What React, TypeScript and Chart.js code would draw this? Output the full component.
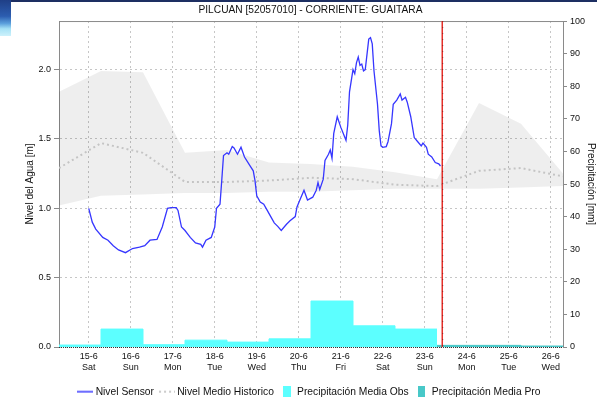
import React, { useEffect, useRef } from "react";
import { Chart, registerables } from "chart.js";

Chart.register(...registerables);

const FONT = '"Liberation Sans", Arial, sans-serif';

const titleText = "PILCUAN [52057010] - CORRIENTE: GUAITARA";
const leftAxisTitle = "Nivel del Agua [m]";
const rightAxisTitle = "Precipitación [mm]";

// x values: hours since 15-6 00:00
const xMinHour = -17;
const xMaxHour = 271;
const nowHour = 202;
const levelMax = 2.35;
const precipMax = 100;

const dayLabels = ["15-6", "16-6", "17-6", "18-6", "19-6", "20-6", "21-6", "22-6", "23-6", "24-6", "25-6", "26-6"];
const weekdayLabels = ["Sat", "Sun", "Mon", "Tue", "Wed", "Thu", "Fri", "Sat", "Sun", "Mon", "Tue", "Wed"];

const sensorHours = [0, 2, 4, 8, 11, 14, 17, 21, 25, 29, 32, 35, 39, 42, 45, 47, 50, 51, 53, 55, 58, 61, 64, 65, 67, 70, 72, 73, 75, 76, 77, 79, 80, 82, 83, 85, 87, 89, 92, 94, 95, 96, 98, 100, 102, 104, 106, 108, 110, 113, 115, 118, 119, 121, 123, 125, 128, 130, 131, 132, 134, 135, 137, 138, 139, 140, 142, 144, 147, 148, 149, 151, 152, 153, 154, 155, 156, 157, 158, 159, 160, 161, 162, 163, 165, 166, 167, 168, 170, 171, 173, 174, 176, 178, 179, 181, 182, 184, 185, 186, 188, 190, 191, 193, 194, 196, 198, 200, 201];
const sensorLevels = [1.0, 0.9, 0.85, 0.79, 0.77, 0.73, 0.7, 0.68, 0.71, 0.72, 0.73, 0.77, 0.775, 0.865, 1.0, 1.005, 1.005, 0.985, 0.865, 0.84, 0.79, 0.75, 0.74, 0.72, 0.77, 0.79, 0.865, 1.0, 1.03, 1.2, 1.38, 1.4, 1.39, 1.445, 1.435, 1.39, 1.44, 1.37, 1.31, 1.27, 1.2, 1.09, 1.045, 1.03, 0.985, 0.94, 0.895, 0.87, 0.84, 0.885, 0.91, 0.94, 1.01, 1.07, 1.13, 1.06, 1.08, 1.13, 1.185, 1.135, 1.21, 1.345, 1.39, 1.42, 1.36, 1.54, 1.66, 1.585, 1.49, 1.6, 1.84, 2.0, 1.97, 2.05, 2.09, 2.03, 2.04, 1.99, 2.0, 2.11, 2.22, 2.23, 2.185, 1.99, 1.75, 1.56, 1.45, 1.44, 1.445, 1.48, 1.61, 1.75, 1.78, 1.825, 1.78, 1.8, 1.765, 1.66, 1.585, 1.51, 1.48, 1.45, 1.47, 1.44, 1.39, 1.37, 1.33, 1.32, 1.305];

const histHours = [-17, 7, 31, 55, 79, 103, 127, 151, 175, 199, 223, 247, 271];
const histUpper = [1.84, 1.99, 1.98, 1.4, 1.42, 1.33, 1.32, 1.3, 1.26, 1.21, 1.76, 1.61, 1.25];
const histMedian = [1.29, 1.47, 1.4, 1.19, 1.19, 1.2, 1.22, 1.21, 1.17, 1.16, 1.27, 1.29, 1.23];
const histLower = [1.02, 1.09, 1.1, 1.11, 1.11, 1.12, 1.12, 1.13, 1.14, 1.14, 1.14, 1.15, 1.16];

// daily precipitation, periods 07:00 -> 07:00 (boundaries in hours)
const obsBounds = [-17, 7, 31, 55, 79, 103, 127, 151, 175, 199];
const obsPrecip = [0.6, 5.5, 0.7, 2.1, 1.5, 2.5, 14.1, 6.5, 5.5];
const proBounds = [199, 223, 247, 271];
const proPrecip = [0.5, 0.5, 0.3];

const COLORS = {
  sensor: "#3636ff",
  median: "#c4c4c4",
  band: "rgba(0,0,0,0.066)",
  obs: "#5cffff",
  pro: "#48c8c8",
  now: "#e6302a",
  grid: "#c6c6c6",
  axis: "#8a8a8a",
};

function stepPoints(bounds: number[], values: number[]) {
  return bounds.map((h, i) => ({ x: h, y: values[Math.min(i, values.length - 1)] }));
}

function makeSwatch(kind: "line" | "dots" | "rect", color: string, w: number, h: number) {
  const c = document.createElement("canvas");
  c.width = w;
  c.height = h;
  const g = c.getContext("2d")!;
  if (kind === "rect") {
    g.fillStyle = color;
    g.fillRect(0, 0, w, h);
  } else {
    g.strokeStyle = color;
    g.lineWidth = kind === "line" ? 1.5 : 1.6;
    if (kind === "dots") g.setLineDash([2, 3]);
    g.beginPath();
    g.moveTo(0, h / 2);
    g.lineTo(w, h / 2);
    g.stroke();
  }
  return c;
}

const overlayPlugin = {
  id: "overlay",
  afterDatasetsDraw(chart: any) {
    const { ctx, chartArea, scales } = chart;
    const x = scales.x.getPixelForValue(nowHour);
    ctx.save();
    // top frame line
    ctx.strokeStyle = COLORS.axis;
    ctx.lineWidth = 1;
    ctx.beginPath();
    ctx.moveTo(chartArea.left, chartArea.top + 0.5);
    ctx.lineTo(chartArea.right, chartArea.top + 0.5);
    ctx.stroke();
    // bottom dotted axis
    ctx.strokeStyle = "#333";
    ctx.setLineDash([1, 1]);
    ctx.beginPath();
    ctx.moveTo(chartArea.left, chartArea.bottom + 0.5);
    ctx.lineTo(chartArea.right, chartArea.bottom + 0.5);
    ctx.stroke();
    // now line
    ctx.setLineDash([]);
    ctx.strokeStyle = COLORS.now;
    ctx.lineWidth = 1.5;
    ctx.beginPath();
    ctx.moveTo(x, chartArea.top);
    ctx.lineTo(x, chartArea.bottom);
    ctx.stroke();
    ctx.strokeStyle = "rgba(90,20,20,0.6)";
    ctx.lineWidth = 1;
    ctx.setLineDash([1, 5]);
    ctx.beginPath();
    ctx.moveTo(x + 0.5, chartArea.top);
    ctx.lineTo(x + 0.5, chartArea.bottom);
    ctx.stroke();
    ctx.restore();
  },
};

export default function App() {
  const canvasRef = useRef<HTMLCanvasElement | null>(null);

  useEffect(() => {
    document.body.style.margin = "0";
    const canvas = canvasRef.current;
    if (!canvas) return;

    const swatches = {
      sensor: makeSwatch("line", COLORS.sensor, 16, 3),
      median: makeSwatch("dots", "#b8b8b8", 16, 3),
      obs: makeSwatch("rect", COLORS.obs, 8, 11),
      pro: makeSwatch("rect", COLORS.pro, 7, 11),
    };

    const chart = new Chart(canvas, {
      type: "line",
      data: {
        datasets: [
          {
            label: "Nivel Sensor",
            data: sensorHours.map((h, i) => ({ x: h, y: sensorLevels[i] })),
            borderColor: COLORS.sensor,
            borderWidth: 1.3,
            pointRadius: 0,
            tension: 0,
            fill: false,
            yAxisID: "y",
            order: 1,
          },
          {
            label: "Nivel Medio Historico",
            data: histHours.map((h, i) => ({ x: h, y: histMedian[i] })),
            borderColor: COLORS.median,
            borderWidth: 2,
            borderDash: [2, 3],
            pointRadius: 0,
            fill: false,
            yAxisID: "y",
            order: 3,
          },
          {
            label: "Precipitación Media Obs",
            data: stepPoints(obsBounds, obsPrecip),
            stepped: true,
            borderColor: COLORS.obs,
            backgroundColor: COLORS.obs,
            borderWidth: 1,
            pointRadius: 0,
            fill: "origin",
            yAxisID: "y2",
            order: 4,
          },
          {
            label: "Precipitación Media Pro",
            data: stepPoints(proBounds, proPrecip),
            stepped: true,
            borderColor: COLORS.pro,
            backgroundColor: COLORS.pro,
            borderWidth: 1,
            pointRadius: 0,
            fill: "origin",
            yAxisID: "y2",
            order: 4,
          },
          {
            label: "Max Historico",
            data: histHours.map((h, i) => ({ x: h, y: histUpper[i] })),
            borderColor: "transparent",
            backgroundColor: COLORS.band,
            borderWidth: 1,
            pointRadius: 0,
            fill: "+1",
            yAxisID: "y",
            order: 6,
          },
          {
            label: "Min Historico",
            data: histHours.map((h, i) => ({ x: h, y: histLower[i] })),
            borderColor: "transparent",
            borderWidth: 1,
            pointRadius: 0,
            fill: false,
            yAxisID: "y",
            order: 6,
          },
        ],
      },
      options: {
        responsive: false,
        animation: false,
        events: [],
        layout: { padding: { left: 24, right: 0, top: 0, bottom: -5 } },
        scales: {
          x: {
            type: "linear",
            min: xMinHour,
            max: xMaxHour,
            afterBuildTicks: (scale: any) => {
              scale.ticks = dayLabels.map((_, i) => ({ value: i * 24 }));
            },
            afterFit: (scale: any) => {
              scale.height = 31.7;
            },
            ticks: {
              autoSkip: false,
              maxRotation: 0,
              padding: 4,
              color: "#111",
              font: { family: FONT, size: 9, lineHeight: 1.2 },
              callback: (v: any) => {
                const i = Math.round(Number(v) / 24);
                return [dayLabels[i], weekdayLabels[i]];
              },
            },
            grid: { color: COLORS.grid, drawTicks: false, lineWidth: 1 },
            border: { display: false, dash: [2, 3] },
          },
          y: {
            position: "left",
            min: 0,
            max: levelMax,
            afterFit: (scale: any) => {
              scale.width = 35;
            },
            ticks: {
              stepSize: 0.5,
              includeBounds: false,
              padding: 3,
              color: "#111",
              font: { family: FONT, size: 9 },
              callback: (v: any) => Number(v).toFixed(1),
            },
            grid: {
              color: COLORS.grid,
              drawTicks: true,
              tickLength: 5,
              tickColor: COLORS.axis,
              tickBorderDash: [],
            },
            border: { display: true, color: COLORS.axis, width: 1, dash: [2, 3] },
            title: {
              display: true,
              text: leftAxisTitle,
              color: "#111",
              font: { family: FONT, size: 10 },
              padding: { top: 0, bottom: 0 },
            },
          },
          y2: {
            position: "right",
            min: 0,
            max: precipMax,
            afterFit: (scale: any) => {
              scale.width = 34;
            },
            ticks: {
              stepSize: 10,
              padding: 3,
              color: "#111",
              font: { family: FONT, size: 9 },
            },
            grid: {
              drawOnChartArea: false,
              drawTicks: true,
              tickLength: 4,
              color: COLORS.axis,
              tickColor: COLORS.axis,
            },
            border: { display: true, color: COLORS.axis, width: 1 },
            title: {
              display: true,
              text: rightAxisTitle,
              color: "#111",
              font: { family: FONT, size: 10 },
              padding: { top: 0, bottom: 0 },
            },
          },
        },
        plugins: {
          tooltip: { enabled: false },
          title: {
            display: true,
            text: titleText,
            color: "#111",
            font: { family: FONT, size: 10.2, weight: "normal" },
            padding: { top: 4.5, bottom: 4.3 },
          },
          legend: {
            display: true,
            position: "bottom",
            labels: {
              usePointStyle: true,
              pointStyleWidth: 10,
              padding: 8,
              color: "#111",
              font: { family: FONT, size: 10.3 },
              generateLabels: () => [
                { text: "Nivel Sensor", pointStyle: swatches.sensor, fillStyle: COLORS.sensor, strokeStyle: COLORS.sensor, lineWidth: 0, hidden: false, datasetIndex: 0, fontColor: "#111" },
                { text: "Nivel Medio Historico", pointStyle: swatches.median, fillStyle: COLORS.median, strokeStyle: COLORS.median, lineWidth: 0, hidden: false, datasetIndex: 1, fontColor: "#111" },
                { text: "Precipitación Media Obs", pointStyle: swatches.obs, fillStyle: COLORS.obs, strokeStyle: COLORS.obs, lineWidth: 0, hidden: false, datasetIndex: 2, fontColor: "#111" },
                { text: "Precipitación Media Pro", pointStyle: swatches.pro, fillStyle: COLORS.pro, strokeStyle: COLORS.pro, lineWidth: 0, hidden: false, datasetIndex: 3, fontColor: "#111" },
              ] as any,
            },
          },
        },
      } as any,
      plugins: [overlayPlugin as any],
    });

    return () => chart.destroy();
  }, []);

  return (
    <div style={{ position: "relative", width: 597, height: 402, background: "#fff", overflow: "hidden" }}>
      <canvas ref={canvasRef} width={597} height={402} style={{ display: "block" }} />
      <div style={{ position: "absolute", left: 0, top: 0, width: 597, height: 2, background: "#1d2f62" }} />
      <div
        style={{
          position: "absolute",
          left: 0,
          top: 0,
          width: 11,
          height: 36,
          background: "linear-gradient(#1f3f86 0%, #2c5db0 45%, #5a9fdc 65%, #a6e2f6 80%, #cdf1fb 100%)",
        }}
      />
    </div>
  );
}
